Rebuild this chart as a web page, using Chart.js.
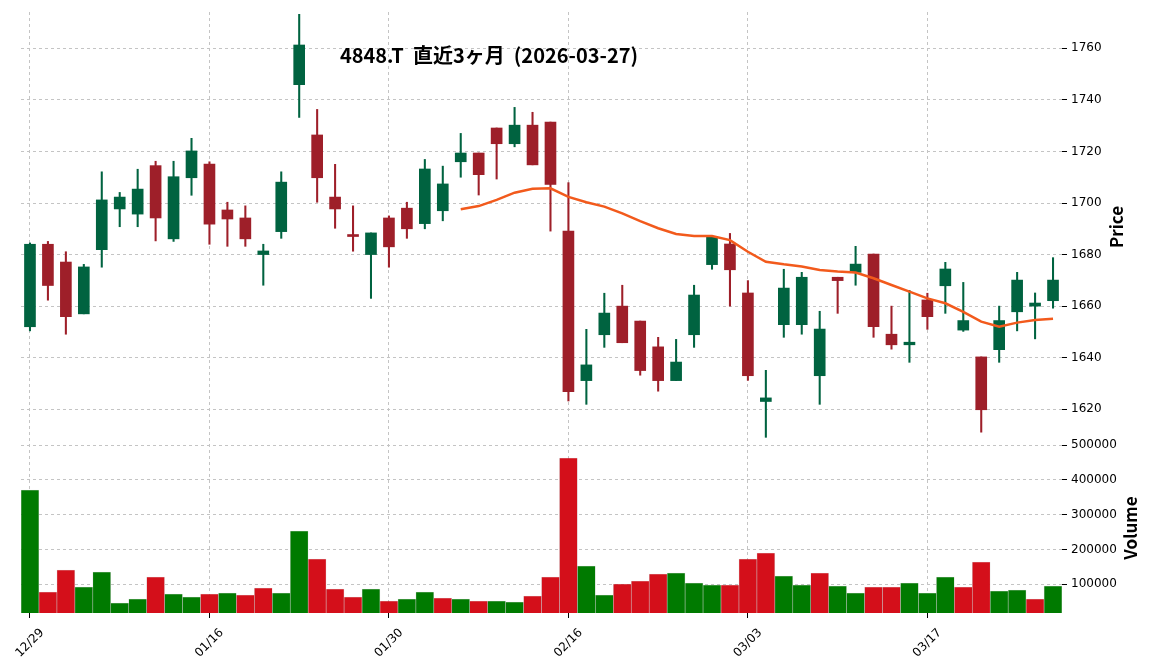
<!DOCTYPE html>
<html>
<head>
<meta charset="utf-8">
<script src="https://cdn.jsdelivr.net/npm/chart.js@4"></script>
<style>
  body { margin: 0; background: #fff; }
</style>
</head>
<body>
<canvas id="chart" width="1152" height="670"></canvas>
<script>
const dates = [
  "12/29", "12/30", "01/05", "01/06", "01/07", "01/08", "01/09", "01/13", "01/14", "01/15",
  "01/16", "01/19", "01/20", "01/21", "01/22", "01/23", "01/26", "01/27", "01/28", "01/29",
  "01/30", "02/02", "02/03", "02/04", "02/05", "02/06", "02/09", "02/10", "02/12", "02/13",
  "02/16", "02/17", "02/18", "02/19", "02/20", "02/24", "02/25", "02/26", "02/27", "03/02",
  "03/03", "03/04", "03/05", "03/06", "03/09", "03/10", "03/11", "03/12", "03/13", "03/16",
  "03/17", "03/18", "03/19", "03/23", "03/24", "03/25", "03/26", "03/27"
];
const opens = [
  1652, 1684, 1677.1, 1657, 1681.9, 1697.7, 1695.7, 1714.5, 1686.1, 1709.8,
  1715.1, 1697.3, 1694.2, 1680, 1688.9, 1745.9, 1726.4, 1702.3, 1687.5, 1680,
  1694.2, 1698, 1692, 1697, 1716, 1719.4, 1729.1, 1723, 1730.2, 1731.4,
  1689.1, 1631.1, 1648.9, 1660, 1654.2, 1644.2, 1631.1, 1648.9, 1676.1, 1684.1,
  1665.1, 1623, 1652.8, 1652.8, 1633, 1671.2, 1673.1, 1680.2, 1649.1, 1645,
  1662.4, 1667.9, 1650.7, 1640.3, 1643.1, 1657.8, 1660, 1662.1
];
const highs = [
  1684.5, 1685.1, 1681.1, 1676.2, 1712.1, 1704.1, 1713.1, 1716.2, 1716.2, 1725.1,
  1716, 1700.3, 1698.9, 1684, 1712.1, 1773.2, 1736.3, 1715, 1698.9, 1688.4,
  1695, 1700.3, 1716.9, 1714.3, 1727, 1719.4, 1729.1, 1737.1, 1735.2, 1731.4,
  1707.9, 1651, 1665, 1668.1, 1654.2, 1647.9, 1647.1, 1668.1, 1687, 1688.2,
  1669.9, 1635.1, 1674.3, 1673.1, 1658, 1671.2, 1683.2, 1680.2, 1660, 1666.1,
  1665, 1677, 1669.2, 1640.3, 1660, 1673.1, 1665.1, 1678.8
];
const lows = [
  1650.4, 1662.3, 1649.1, 1657, 1675.1, 1690.8, 1690.8, 1685.3, 1685.1, 1703,
  1684, 1683.2, 1683.2, 1668.1, 1686.3, 1733.2, 1700.3, 1690.2, 1681.3, 1663,
  1675.1, 1686.3, 1690, 1693.1, 1710, 1703.1, 1709.3, 1721.8, 1714.8, 1689.1,
  1623.2, 1621.9, 1644, 1645.8, 1633.2, 1627, 1631.1, 1644, 1674.3, 1660,
  1631.2, 1609.1, 1647.9, 1649.1, 1621.9, 1657.2, 1668.1, 1647.9, 1643.3, 1638.2,
  1651, 1657.2, 1650.2, 1611.1, 1638.2, 1650.4, 1647.3, 1659.2
];
const closes = [
  1684, 1668, 1655.9, 1675.2, 1701.2, 1702.3, 1705.4, 1694.2, 1710.2, 1720.2,
  1691.8, 1693.8, 1686.1, 1681.4, 1708.1, 1761.3, 1709.8, 1697.7, 1687, 1688.4,
  1683, 1690, 1713.2, 1707.4, 1719.4, 1711, 1723, 1730.2, 1714.8, 1707.2,
  1626.8, 1637.2, 1657.3, 1645.8, 1635, 1631.1, 1638.3, 1664.3, 1686.7, 1674.1,
  1633, 1624.4, 1667, 1671.2, 1651.1, 1669.9, 1676.3, 1652, 1645, 1646,
  1655.9, 1674.4, 1654.4, 1619.8, 1654.4, 1670.1, 1661.2, 1670.1
];
const volumes = [
  370700, 77900, 141000, 92200, 135300, 46300, 57800, 121000, 72200, 63500,
  72200, 75000, 69300, 89400, 75000, 253000, 172600, 86500, 63500, 86500,
  52000, 57800, 77900, 60700, 57800, 52000, 52000, 49200, 66400, 121000,
  462600, 152500, 69300, 100900, 109500, 129600, 132500, 103700, 98000, 98000,
  172600, 189800, 123800, 98000, 132500, 95100, 75000, 92200, 92200, 103700,
  75000, 121000, 92200, 164000, 80800, 83700, 57800, 95100
];
// 25-day moving average of the close, starts on the 25th session
const ma25 = [
  null, null, null, null, null, null, null, null, null, null,
  null, null, null, null, null, null, null, null, null, null,
  null, null, null, null, 1697.6, 1698.8, 1701.2, 1704.0, 1705.5, 1705.7,
  1702.4, 1700.3, 1698.6, 1696.0, 1693.0, 1690.2, 1688.0, 1687.2, 1687.2, 1685.6,
  1681.1, 1677.2, 1676.2, 1675.4, 1674.0, 1673.4, 1673.0, 1670.8, 1668.2, 1665.6,
  1663.0, 1661.1, 1657.8, 1654.0, 1652.0, 1653.6, 1654.6, 1655.1
];
const priceTicks = [1620, 1640, 1660, 1680, 1700, 1720, 1740, 1760];
const volumeTicks = [100000, 200000, 300000, 400000, 500000];
const dateTickEvery = 10;

const UP = '#006340';
const DOWN = '#9e1f29';
const VOL_UP = '#007a00';
const VOL_DOWN = '#d40f1a';
const GRID = '#c4c4c4';
const TICK_FONT = { family: 'DejaVu Sans', size: 12 };

const bodies = opens.map((o, i) => [o, closes[i]]);
const wicks = lows.map((l, i) => [l, highs[i]]);
const candleColors = closes.map((c, i) => c >= opens[i] ? UP : DOWN);
const volColors = closes.map((c, i) => (i === 0 || c >= closes[i - 1]) ? VOL_UP : VOL_DOWN);

// title, axis titles and the slanted date labels (centred on their tick)
const overlay = {
  id: 'overlay',
  afterDraw(chart) {
    const c = chart.ctx;
    const xs = chart.scales.x;
    c.save();
    c.fillStyle = '#000';
    c.textAlign = 'center';
    c.textBaseline = 'middle';
    c.font = 'bold 20px "Noto Sans CJK JP"';
    c.fillText('4848.T  直近3ヶ月  (2026-03-27)', 489, 55);

    c.font = '12px "DejaVu Sans"';
    xs.ticks.forEach((t) => {
      c.save();
      c.translate(xs.getPixelForValue(t.value), 643);
      c.rotate(-Math.PI / 4);
      c.fillText(dates[t.value], 0, 0);
      c.restore();
    });

    c.font = 'bold 17px "Noto Sans CJK JP"';
    c.save();
    c.translate(1117, 227);
    c.rotate(-Math.PI / 2);
    c.fillText('Price', 0, 0);
    c.restore();
    c.save();
    c.translate(1131, 528);
    c.rotate(-Math.PI / 2);
    c.fillText('Volume', 0, 0);
    c.restore();
    c.restore();
  }
};

function noPad(scale) {
  scale.paddingLeft = 0;
  scale.paddingRight = 0;
  scale.paddingTop = 0;
  scale.paddingBottom = 0;
}

const ctx = document.getElementById('chart').getContext('2d');

new Chart(ctx, {
  type: 'bar',
  data: {
    labels: dates,
    datasets: [
      {
        type: 'line',
        label: 'MA25',
        data: ma25,
        yAxisID: 'y',
        borderColor: '#f25a1c',
        borderWidth: 2.5,
        pointRadius: 0,
        tension: 0,
        order: 0
      },
      {
        label: 'body',
        data: bodies,
        yAxisID: 'y',
        backgroundColor: candleColors,
        barThickness: 11,
        minBarLength: 2,
        grouped: false,
        order: 1
      },
      {
        label: 'wick',
        data: wicks,
        yAxisID: 'y',
        backgroundColor: candleColors,
        barThickness: 1.4,
        grouped: false,
        order: 2
      },
      {
        label: 'Volume',
        data: volumes,
        yAxisID: 'y2',
        backgroundColor: volColors,
        borderColor: 'rgba(0,0,0,0.15)',
        borderWidth: 0.6,
        barPercentage: 1,
        categoryPercentage: 1,
        grouped: false,
        order: 3
      }
    ]
  },
  options: {
    responsive: false,
    animation: false,
    layout: { padding: { top: 12, left: 21, right: 0, bottom: 0 } },
    plugins: {
      legend: { display: false },
      tooltip: { enabled: false }
    },
    scales: {
      x: {
        type: 'category',
        offset: true,
        grid: { offset: false, color: GRID, tickColor: '#000', tickLength: 5 },
        border: { display: false, dash: [3, 3] },
        ticks: { display: false, autoSkip: false },
        afterBuildTicks: (scale) => {
          scale.ticks = scale.ticks.filter(t => t.value % dateTickEvery === 0);
        },
        afterFit: (scale) => {
          scale.height = 57;
          noPad(scale);
        }
      },
      y: {
        type: 'linear',
        position: 'right',
        stack: 'panels',
        stackWeight: 431,
        min: 1606.9,
        max: 1774.1,
        grid: { color: GRID, tickColor: '#000', tickLength: 5 },
        border: { display: false, dash: [3, 3] },
        ticks: { color: '#000', font: TICK_FONT, padding: 4, callback: (v) => String(v) },
        afterBuildTicks: (scale) => {
          scale.ticks = priceTicks.map(v => ({ value: v }));
        },
        afterFit: (scale) => {
          scale.width = 90;
          noPad(scale);
        }
      },
      y2: {
        type: 'linear',
        position: 'right',
        stack: 'panels',
        stackWeight: 170,
        offset: false,
        min: 17500,
        max: 506000,
        grid: { color: GRID, tickColor: '#000', tickLength: 5 },
        border: { display: false, dash: [3, 3] },
        ticks: { color: '#000', font: TICK_FONT, padding: 4, callback: (v) => String(v) },
        afterBuildTicks: (scale) => {
          scale.ticks = volumeTicks.map(v => ({ value: v }));
        },
        afterFit: (scale) => {
          scale.width = 90;
          noPad(scale);
        }
      }
    }
  },
  plugins: [overlay]
});
</script>
</body>
</html>
